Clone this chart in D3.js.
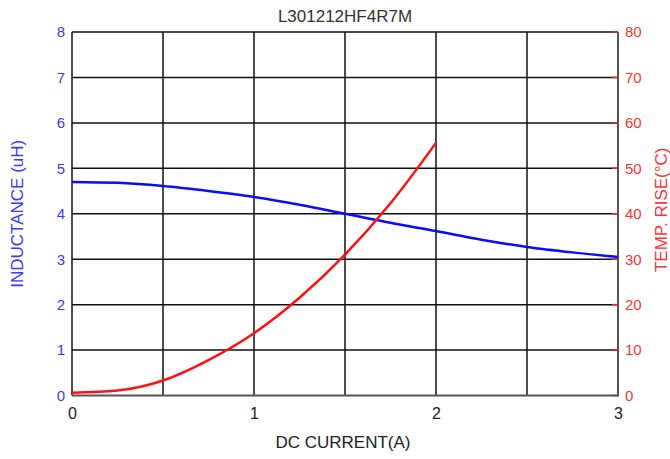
<!DOCTYPE html>
<html><head><meta charset="utf-8">
<script src="https://cdn.jsdelivr.net/npm/d3@7"></script>
<style>body{margin:0;background:#fff;}svg{display:block;font-family:"Liberation Sans",Arial,sans-serif;}</style>
</head><body>
<script>
const title = "L301212HF4R7M";
const xTicks = [0, 1, 2, 3];
const xGrid = [0.5, 1, 1.5, 2, 2.5];
const yLeftTicks = [0, 1, 2, 3, 4, 5, 6, 7, 8];
const yRightTicks = [0, 10, 20, 30, 40, 50, 60, 70, 80];
const indCurrent = [0, 0.25, 0.5, 0.75, 1, 1.25, 1.5, 1.75, 2, 2.25, 2.5, 2.75, 3];
const inductance = [4.70, 4.68, 4.61, 4.50, 4.37, 4.20, 4.00, 3.80, 3.62, 3.43, 3.27, 3.15, 3.05];
const tempCurrent = [0, 0.25, 0.5, 0.75, 1, 1.25, 1.5, 1.75, 2];
const tempRise = [0.6, 1.1, 3.3, 7.8, 13.7, 21.5, 31.0, 42.3, 55.6];

const W = 670, H = 459;
const m = {l: 72, r: 52, t: 32, b: 63.5};
const svg = d3.select("body").append("svg").attr("width", W).attr("height", H);
const x = d3.scaleLinear().domain([0, 3]).range([m.l, W - m.r]);
const yL = d3.scaleLinear().domain([0, 8]).range([H - m.b, m.t]);
const yR = d3.scaleLinear().domain([0, 80]).range([H - m.b, m.t]);

// grid
const g = svg.append("g");
g.selectAll(".hg").data(yLeftTicks.filter(d => d > 0)).join("line")
  .attr("x1", x(0)).attr("x2", x(3)).attr("y1", d => yL(d)).attr("y2", d => yL(d))
  .attr("stroke", "#111").attr("stroke-width", 1.5);
g.selectAll(".vg").data(xGrid).join("line")
  .attr("x1", d => x(d)).attr("x2", d => x(d)).attr("y1", yL(0)).attr("y2", yL(8))
  .attr("stroke", "#111").attr("stroke-width", 1.5);
// left axis line
svg.append("line").attr("x1", x(0)).attr("x2", x(0)).attr("y1", yL(0)).attr("y2", yL(8))
  .attr("stroke", "#111").attr("stroke-width", 1.5);

// right axis with inner red ticks
const rAx = svg.append("g").attr("transform", `translate(${x(3)},0)`)
  .call(d3.axisRight(yR).tickValues(yRightTicks).tickSize(0).tickPadding(7));
rAx.select(".domain").remove();
rAx.selectAll("text").attr("fill", "#ff3333").style("font-size", "15px").style("font-family", "Liberation Sans, Arial, sans-serif");
svg.selectAll(".rtick").data(yRightTicks).join("line")
  .attr("x1", x(3) - 6).attr("x2", x(3)).attr("y1", d => yR(d)).attr("y2", d => yR(d))
  .attr("stroke", "#ff2020").attr("stroke-width", 1.5);
svg.append("line").attr("x1", x(3)).attr("x2", x(3)).attr("y1", yR(0) + 1).attr("y2", yR(80))
  .attr("stroke", "#555").attr("stroke-width", 2);
// bottom axis line
svg.append("line").attr("x1", x(0)).attr("x2", x(3)).attr("y1", yL(0)).attr("y2", yL(0))
  .attr("stroke", "#555").attr("stroke-width", 2);

// left axis labels
const lAx = svg.append("g").attr("transform", `translate(${x(0)},0)`)
  .call(d3.axisLeft(yL).tickValues(yLeftTicks).tickSize(0).tickPadding(7));
lAx.select(".domain").remove();
lAx.selectAll("text").attr("fill", "#3a3aff").style("font-size", "15px").style("font-family", "Liberation Sans, Arial, sans-serif");

// bottom axis labels
const bAx = svg.append("g").attr("transform", `translate(0,${yL(0)})`)
  .call(d3.axisBottom(x).tickValues(xTicks).tickFormat(d3.format("d")).tickSize(0).tickPadding(12));
bAx.select(".domain").remove();
bAx.selectAll("text").attr("fill", "#222").style("font-size", "16px").style("font-family", "Liberation Sans, Arial, sans-serif");

// curves
svg.append("path").datum(indCurrent.map((c, i) => [c, inductance[i]]))
  .attr("d", d3.line().x(d => x(d[0])).y(d => yL(d[1])).curve(d3.curveMonotoneX))
  .attr("fill", "none").attr("stroke", "#0a0aff").attr("stroke-width", 2.5);
svg.append("path").datum(tempCurrent.map((c, i) => [c, tempRise[i]]))
  .attr("d", d3.line().x(d => x(d[0])).y(d => yR(d[1])).curve(d3.curveMonotoneX))
  .attr("fill", "none").attr("stroke", "#ff1010").attr("stroke-width", 2.5);

// titles
svg.append("text").attr("x", 345).attr("y", 22).attr("text-anchor", "middle")
  .attr("fill", "#333").style("font-size", "17px").text(title);
svg.append("text").attr("x", 343).attr("y", 448).attr("text-anchor", "middle")
  .attr("fill", "#222").style("font-size", "17px").text("DC CURRENT(A)");
svg.append("text").attr("transform", `translate(23,${yL(4)}) rotate(-90)`).attr("text-anchor", "middle")
  .attr("fill", "#3a3aff").style("font-size", "17px").text("INDUCTANCE (uH)");
svg.append("text").attr("transform", `translate(667,${yR(40) - 4}) rotate(-90)`).attr("text-anchor", "middle")
  .attr("fill", "#ff3333").style("font-size", "17px").text("TEMP. RISE(°C)");
</script>
</body></html>
